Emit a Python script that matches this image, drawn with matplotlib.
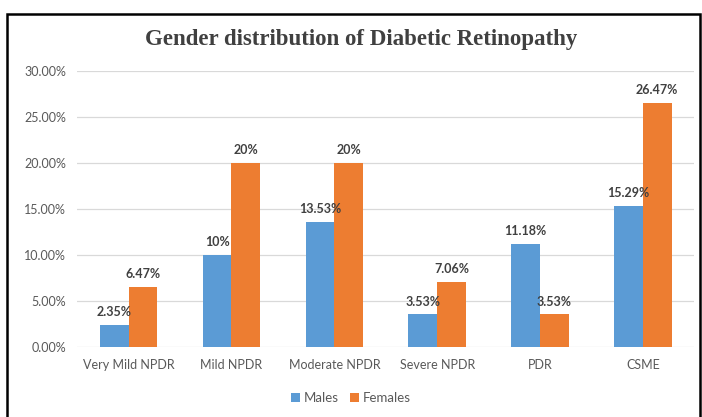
import matplotlib.pyplot as plt
import numpy as np
from matplotlib.patches import Rectangle

# Data
categories = ['Very Mild NPDR', 'Mild NPDR', 'Moderate NPDR', 'Severe NPDR', 'PDR', 'CSME']
males = [2.35, 10, 13.53, 3.53, 11.18, 15.29]
females = [6.47, 20, 20, 7.06, 3.53, 26.47]
male_labels = ['2.35%', '10%', '13.53%', '3.53%', '11.18%', '15.29%']
female_labels = ['6.47%', '20%', '20%', '7.06%', '3.53%', '26.47%']
yticks = [0, 5, 10, 15, 20, 25, 30]

blue = '#5B9BD5'
orange = '#ED7D31'
txt = '#595959'

fig = plt.figure(figsize=(7.02, 4.17), dpi=100)
ax = fig.add_axes([0.110, 0.168, 0.879, 0.662])

x = np.arange(len(categories))
w = 0.28
b1 = ax.bar(x - w / 2, males, w, color=blue, label='Males', zorder=3)
b2 = ax.bar(x + w / 2, females, w, color=orange, label='Females', zorder=3)

for bars, labels in [(b1, male_labels), (b2, female_labels)]:
    for rect, lab in zip(bars, labels):
        ax.annotate(lab, (rect.get_x() + rect.get_width() / 2, rect.get_height()),
                    xytext=(0, 5), textcoords='offset points', ha='center', va='bottom',
                    fontsize=9, fontweight='bold', color='#404040', family='Lato')

ax.set_xlim(-0.5, len(categories) - 0.5)
ax.set_ylim(0, 30)
ax.set_yticks(yticks)
ax.set_yticklabels(['{:.2f}%'.format(v) for v in yticks], fontsize=9, color=txt, family='Lato')
ax.set_xticks(x)
ax.set_xticklabels(categories, fontsize=9, color=txt, family='Lato')
ax.tick_params(length=0, pad=8)
ax.tick_params(axis='x', pad=9)
ax.grid(axis='y', color='#D9D9D9', linewidth=0.9, zorder=0)
for s in ax.spines.values():
    s.set_visible(False)

fig.text(0.515, 0.905, 'Gender distribution of Diabetic Retinopathy', ha='center', va='center',
         fontsize=16.5, fontweight='bold', family='Liberation Serif', color='#404040')

fig.legend(handles=[b1, b2], loc='center', bbox_to_anchor=(0.5, 0.045), ncol=2, frameon=False,
           handlelength=0.7, handleheight=0.7, handletextpad=0.3, columnspacing=0.8,
           prop={'family': 'Lato', 'size': 9.5}, labelcolor=txt)

# outer border
fig.add_artist(Rectangle((0.01, -0.01), 0.987, 0.977, transform=fig.transFigure,
                         fill=False, edgecolor='black', linewidth=1.8))

fig.savefig('out.png', dpi=100)
